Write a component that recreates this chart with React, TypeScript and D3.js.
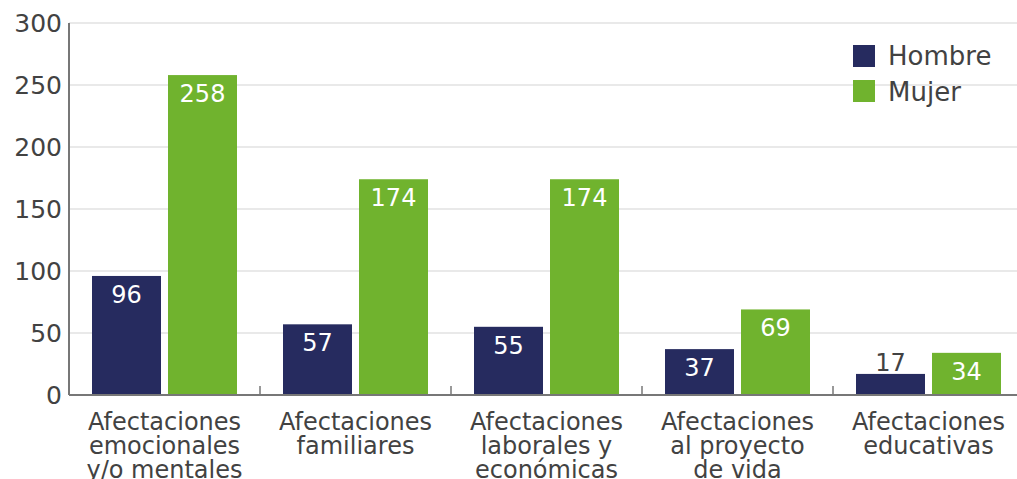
import React from "react";
import * as d3 from "d3";

const categories: string[][] = [
  ["Afectaciones", "emocionales", "y/o mentales"],
  ["Afectaciones", "familiares"],
  ["Afectaciones", "laborales y", "económicas"],
  ["Afectaciones", "al proyecto", "de vida"],
  ["Afectaciones", "educativas"],
];
const series = ["Hombre", "Mujer"];
const hombre = [96, 57, 55, 37, 17];
const mujer = [258, 174, 174, 69, 34];
const yTicks = [0, 50, 100, 150, 200, 250, 300];
const colors = ["#262b5f", "#70b32e"];

const W = 1017;
const H = 479;
const left = 69;
const right = 1024;
const top = 23;
const bottom = 395;
const font = "'DejaVu Sans', sans-serif";
const textColor = "#424242";

export default function App() {
  const idx = categories.map((_, i) => String(i));
  const x0 = d3.scaleBand<string>().domain(idx).range([left, right]).paddingInner(0).paddingOuter(0);
  const groupPad = 23;
  const x1 = d3
    .scaleBand<string>()
    .domain(series)
    .range([groupPad, x0.bandwidth() - groupPad])
    .paddingInner(7 / 76)
    .paddingOuter(0);
  const y = d3.scaleLinear().domain([0, 300]).range([bottom, top]);
  const data = [hombre, mujer];

  return (
    <svg width={W} height={H} style={{ position: "absolute", left: 0, top: 0 }} fontFamily={font}>
      {yTicks.map((t) => (
        <g key={t}>
          {t > 0 && <line x1={left} x2={W} y1={y(t)} y2={y(t)} stroke="#e2e2e2" strokeWidth={1.5} />}
          <text x={62} y={y(t)} dy="0.36em" textAnchor="end" fontSize={25} fill={textColor}>
            {t}
          </text>
        </g>
      ))}
      {categories.map((_, i) =>
        data.map((vals, s) => {
          const xb = x0(String(i))! + x1(series[s])!;
          const w = x1.bandwidth();
          const v = vals[i];
          const yt = y(v);
          const h = bottom - yt;
          const inside = h > 30;
          return (
            <g key={`${i}-${s}`}>
              <rect x={xb} y={yt} width={w} height={h} fill={colors[s]} />
              <text
                x={xb + w / 2}
                y={inside ? yt + 27 : yt - 3}
                textAnchor="middle"
                fontSize={24}
                fill={inside ? "#ffffff" : textColor}
              >
                {v}
              </text>
            </g>
          );
        })
      )}
      <line x1={left} x2={left} y1={top} y2={bottom} stroke="#777" strokeWidth={2} />
      <line x1={left} x2={W} y1={bottom} y2={bottom} stroke="#777" strokeWidth={2} />
      {idx.slice(1).map((k) => (
        <line key={k} x1={x0(k)!} x2={x0(k)!} y1={bottom} y2={bottom - 9} stroke="#777" strokeWidth={1.5} />
      ))}
      {categories.map((lines, i) => (
        <text key={i} textAnchor="middle" fontSize={24} fill={textColor}>
          {lines.map((l, j) => (
            <tspan key={j} x={x0(String(i))! + x0.bandwidth() / 2} y={430 + j * 24}>
              {l}
            </tspan>
          ))}
        </text>
      ))}
      {series.map((s, i) => (
        <g key={s}>
          <rect x={853} y={45 + i * 35} width={22} height={22} fill={colors[i]} />
          <text x={888} y={65 + i * 36} fontSize={26} fill={textColor}>
            {s}
          </text>
        </g>
      ))}
    </svg>
  );
}
